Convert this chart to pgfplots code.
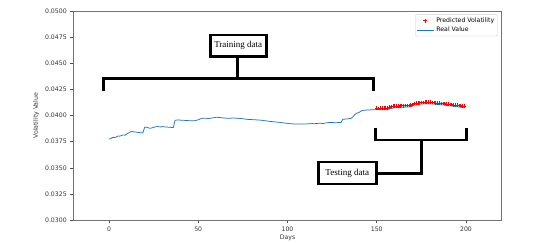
\documentclass[border=0pt]{standalone}
\usepackage{pgfplots}
\pgfplotsset{compat=1.18}
\usepackage{fontspec}
\setmainfont{DejaVu Sans}
\newfontfamily\annfont{Liberation Serif}
\definecolor{mplblue}{HTML}{1F77B4}
\pgfplotstableread{
x y
0 0.03775
1 0.03780
2 0.03792
3 0.03790
4 0.03795
5 0.03805
6 0.03803
7 0.03810
8 0.03815
9 0.03813
10 0.03825
11 0.03835
12 0.03845
13 0.03848
14 0.03845
15 0.03843
16 0.03840
17 0.03838
18 0.03835
19 0.03837
20 0.03888
21 0.03890
22 0.03884
23 0.03879
24 0.03882
25 0.03888
26 0.03892
27 0.03896
28 0.03893
29 0.03892
30 0.03895
31 0.03893
32 0.03891
33 0.03890
34 0.03889
35 0.03887
36 0.03885
37 0.03955
38 0.03958
39 0.03958
40 0.03957
42 0.03955
44 0.03953
46 0.03950
48 0.03952
50 0.03960
52 0.03975
54 0.03975
56 0.03973
58 0.03978
60 0.03985
62 0.03982
64 0.03978
66 0.03975
68 0.03976
70 0.03977
72 0.03975
74 0.03972
76 0.03968
78 0.03963
80 0.03962
82 0.03960
84 0.03958
86 0.03955
88 0.03950
90 0.03945
92 0.03942
94 0.03938
96 0.03935
98 0.03930
100 0.03926
102 0.03922
104 0.03920
106 0.03919
108 0.03921
110 0.03920
112 0.03922
114 0.03924
115 0.03922
116 0.03925
118 0.03927
120 0.03925
122 0.03932
124 0.03935
126 0.03933
128 0.03933
130 0.03935
131 0.03965
133 0.03968
135 0.03972
136 0.03978
137 0.03995
138 0.04015
139 0.04025
140 0.04030
141 0.04042
142 0.04050
144 0.04053
146 0.04055
148 0.04057
150 0.04058
152 0.04058
154 0.04059
156 0.04060
158 0.04068
160 0.04076
162 0.04078
164 0.04080
166 0.04082
168 0.04083
170 0.04090
171 0.04103
172 0.04106
174 0.04110
176 0.04113
178 0.04115
180 0.04114
182 0.04111
184 0.04107
186 0.04104
188 0.04100
190 0.04097
192 0.04092
194 0.04088
196 0.04083
198 0.04078
199 0.04076
}\realdata
\pgfplotstableread{
x y
150 0.04072
151 0.04070
152 0.04071
153 0.04072
154 0.04071
155 0.04073
156 0.04075
157 0.04082
158 0.04088
159 0.04090
160 0.04092
161 0.04091
162 0.04093
163 0.04095
164 0.04096
165 0.04095
166 0.04097
167 0.04096
168 0.04098
169 0.04100
170 0.04108
171 0.04118
172 0.04120
173 0.04122
174 0.04124
175 0.04125
176 0.04127
177 0.04128
178 0.04129
179 0.04128
180 0.04128
181 0.04126
182 0.04125
183 0.04123
184 0.04122
185 0.04120
186 0.04118
187 0.04116
188 0.04115
189 0.04112
190 0.04110
191 0.04108
192 0.04106
193 0.04104
194 0.04102
195 0.04100
196 0.04098
197 0.04096
198 0.04094
199 0.04092
}\preddata
\begin{document}
\begin{tikzpicture}
\path[use as bounding box] (-73.3pt,-23pt) rectangle (476.7pt,220pt);
\begin{axis}[
  at={(0pt,0pt)}, anchor=south west,
  scale only axis, width=428.4pt, height=208.7pt,
  xmin=-20, xmax=220, ymin=0.03, ymax=0.05,
  xtick={0,50,100,150,200},
  ytick={0.03,0.0325,0.035,0.0375,0.04,0.0425,0.045,0.0475,0.05},
  scaled y ticks=false,
  yticklabel style={/pgf/number format/.cd, fixed, fixed zerofill, precision=4},
  /pgf/number format/assume math mode=true,
  tick label style={font=\fontsize{6.2}{7}\selectfont, text=black!80},
  label style={font=\fontsize{6.2}{7}\selectfont, text=black!80},
  xlabel={Days}, ylabel={Volatility Value},
  xlabel style={yshift=3pt},
  ylabel style={yshift=-1pt},
  tick align=outside, major tick length=3pt,
  xtick pos=bottom, ytick pos=left,
  axis line style={black!55, line width=0.6pt},
  tick style={black!70, line width=0.5pt},
  legend style={at={(0.99,0.985)}, anchor=north east, draw=black!20, rounded corners=1pt,
    font=\fontsize{6.2}{7}\selectfont, inner sep=1pt, row sep=-1pt},
  legend cell align=left,
  reverse legend,
  clip=false,
]
\addplot[mplblue, line width=0.75pt, mark=none] table[x=x,y=y] {\realdata};
\addlegendentry{Real Value}
\addplot[only marks, red, mark=+, mark size=1.8pt, line width=0.5pt,
  legend image code/.code={\draw[red, line width=0.6pt] (0.3cm,-2pt) -- (0.3cm,2pt) (0.3cm-2pt,0pt) -- (0.3cm+2pt,0pt);}] table[x=x,y=y] {\preddata};
\addlegendentry{Predicted Volatility}

\draw[line width=2.8pt] (axis cs:-3,0.04239) -- (axis cs:-3,0.04354) -- (axis cs:148.4,0.04354) -- (axis cs:148.4,0.04239);
\draw[line width=2.8pt] (axis cs:71.8,0.04354) -- (axis cs:71.8,0.04555);
\node[draw, line width=2.8pt, fill=white, minimum width=56pt, minimum height=21.5pt, inner sep=1pt, font=\annfont\fontsize{9}{10}\selectfont] at (axis cs:72.4,0.0467) {Training data};

\draw[line width=2.8pt] (axis cs:149.4,0.03885) -- (axis cs:149.4,0.03767) -- (axis cs:200.2,0.03767) -- (axis cs:200.2,0.03885);
\draw[line width=2.8pt] (axis cs:175,0.03767) -- (axis cs:175,0.03448) -- (axis cs:150.6,0.03448);
\node[draw, line width=2.8pt, fill=white, minimum width=58pt, minimum height=22pt, inner sep=1pt, font=\annfont\fontsize{9}{10}\selectfont] at (axis cs:133.5,0.0345) {Testing data};
\end{axis}
\end{tikzpicture}
\end{document}
